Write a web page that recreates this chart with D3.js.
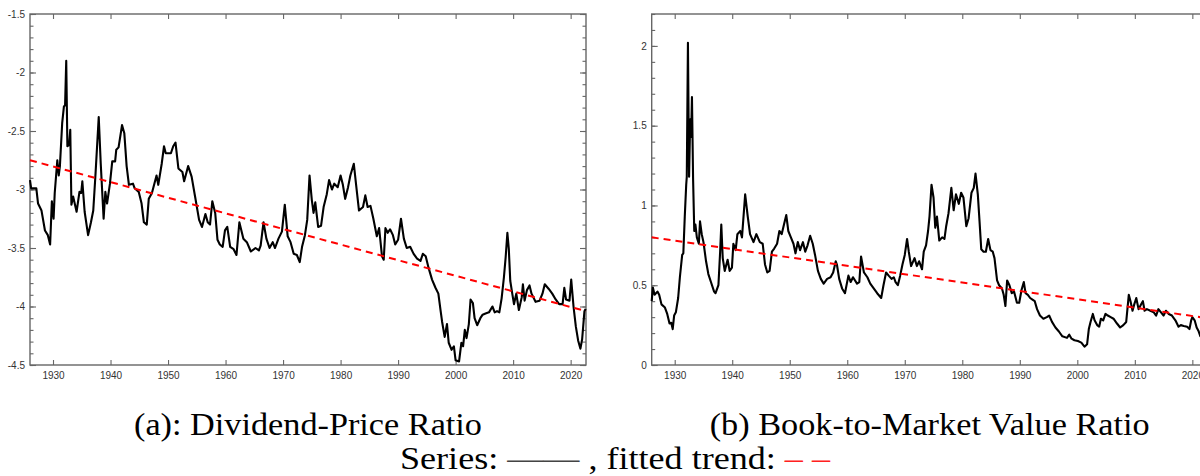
<!DOCTYPE html>
<html>
<head>
<meta charset="utf-8">
<script src="https://cdn.jsdelivr.net/npm/d3@7"></script>
<style>
  body { margin: 0; background: #fff; }
  svg { display: block; }
  .cap { font-family: "Liberation Serif", "DejaVu Serif", "Times New Roman", serif; font-size: 31px; }
</style>
</head>
<body>
<div id="chart"></div>
<script>
// tick values
const yearTicks = [1930, 1940, 1950, 1960, 1970, 1980, 1990, 2000, 2010, 2020];
const dpTicks = [-1.5, -2, -2.5, -3, -3.5, -4, -4.5];
const bmTicks = [0, 0.5, 1, 1.5, 2];

// (a) log dividend-price ratio [year, value]
const dpSeries = [
  [1926.0,-2.92],[1926.2,-2.99],[1927.1,-2.99],[1927.4,-3.12],[1928.0,-3.18],[1928.6,-3.35],
  [1929.1,-3.39],[1929.5,-3.47],[1929.8,-3.10],[1930.1,-3.25],[1930.3,-3.03],[1930.75,-2.75],
  [1931.0,-2.88],[1931.2,-2.80],[1931.6,-2.43],[1931.9,-2.29],[1932.1,-2.28],[1932.3,-1.90],
  [1932.5,-2.63],[1932.8,-2.62],[1933.0,-2.49],[1933.2,-3.13],[1933.5,-3.06],[1934.1,-3.19],
  [1934.6,-3.02],[1934.9,-3.03],[1935.1,-2.93],[1935.5,-3.19],[1936.1,-3.39],[1936.6,-3.28],
  [1937.0,-3.18],[1937.4,-2.86],[1937.95,-2.38],[1938.3,-2.78],[1938.8,-3.25],[1939.1,-3.02],
  [1939.4,-3.12],[1939.9,-2.95],[1940.3,-2.76],[1940.8,-2.76],[1941.0,-2.66],[1941.4,-2.64],
  [1942.0,-2.45],[1942.4,-2.52],[1942.8,-2.80],[1943.2,-2.96],[1943.9,-2.95],[1944.2,-2.99],
  [1944.9,-3.02],[1945.4,-3.12],[1945.8,-3.28],[1946.3,-3.30],[1946.65,-3.08],[1947.2,-3.03],
  [1948.0,-2.88],[1948.3,-2.96],[1948.9,-2.78],[1949.3,-2.63],[1949.6,-2.69],[1950.5,-2.69],
  [1950.9,-2.63],[1951.3,-2.60],[1951.8,-2.82],[1952.5,-2.85],[1952.8,-2.93],[1953.5,-2.80],
  [1954.1,-2.89],[1954.7,-3.06],[1955.4,-3.26],[1955.9,-3.32],[1956.5,-3.21],[1956.9,-3.28],
  [1957.3,-3.30],[1957.7,-3.10],[1958.2,-3.20],[1958.6,-3.43],[1959.0,-3.47],[1959.5,-3.49],
  [1959.9,-3.35],[1960.3,-3.32],[1960.8,-3.49],[1961.4,-3.51],[1961.9,-3.56],[1962.4,-3.28],
  [1963.1,-3.42],[1963.7,-3.45],[1964.4,-3.53],[1965.2,-3.50],[1965.8,-3.52],[1966.1,-3.48],
  [1966.6,-3.28],[1967.1,-3.42],[1967.65,-3.50],[1968.2,-3.45],[1968.6,-3.50],[1969.2,-3.42],
  [1969.8,-3.36],[1970.3,-3.13],[1970.8,-3.40],[1971.3,-3.45],[1971.85,-3.55],[1972.4,-3.56],
  [1972.9,-3.62],[1973.3,-3.49],[1973.8,-3.39],[1974.2,-3.26],[1974.6,-2.88],[1975.0,-3.09],
  [1975.3,-3.20],[1975.6,-3.11],[1976.1,-3.32],[1976.6,-3.31],[1977.05,-3.15],[1977.6,-3.04],
  [1978.0,-2.92],[1978.5,-3.00],[1978.9,-2.95],[1979.5,-2.98],[1980.0,-2.88],[1980.4,-2.96],
  [1980.8,-3.08],[1981.3,-2.98],[1981.7,-2.88],[1982.3,-2.78],[1982.7,-2.96],[1983.2,-3.18],
  [1983.9,-3.15],[1984.3,-3.05],[1984.7,-3.15],[1985.2,-3.14],[1985.7,-3.25],[1986.3,-3.40],
  [1986.7,-3.33],[1987.2,-3.57],[1987.5,-3.60],[1987.8,-3.33],[1988.2,-3.37],[1988.6,-3.34],
  [1989.1,-3.39],[1989.5,-3.47],[1990.0,-3.43],[1990.5,-3.25],[1991.0,-3.42],[1991.5,-3.50],
  [1992.1,-3.49],[1992.7,-3.55],[1993.3,-3.59],[1993.9,-3.61],[1994.3,-3.55],[1994.8,-3.57],
  [1995.3,-3.67],[1995.9,-3.77],[1996.5,-3.84],[1997.0,-3.89],[1997.4,-4.04],[1997.65,-4.13],
  [1998.1,-4.26],[1998.5,-4.15],[1998.8,-4.31],[1999.3,-4.37],[1999.7,-4.34],[2000.0,-4.46],
  [2000.6,-4.47],[2001.0,-4.31],[2001.3,-4.34],[2001.6,-4.20],[2001.9,-4.27],[2002.3,-4.15],
  [2002.6,-3.94],[2003.0,-3.97],[2003.3,-4.10],[2003.75,-4.16],[2004.3,-4.10],[2004.7,-4.07],
  [2005.2,-4.06],[2005.8,-4.05],[2006.4,-4.00],[2006.8,-4.05],[2007.2,-4.04],[2007.6,-4.05],
  [2008.0,-3.93],[2008.4,-3.75],[2008.7,-3.58],[2009.0,-3.37],[2009.25,-3.51],[2009.5,-3.78],
  [2009.85,-3.89],[2010.15,-3.98],[2010.55,-3.89],[2011.0,-4.03],[2011.5,-3.92],[2011.7,-3.81],
  [2012.0,-3.95],[2012.4,-3.86],[2012.85,-3.82],[2013.2,-3.89],[2013.9,-3.96],[2014.6,-3.95],
  [2015.1,-3.89],[2015.5,-3.81],[2016.2,-3.85],[2016.8,-3.89],[2017.4,-3.94],[2018.0,-3.98],
  [2018.6,-3.98],[2018.9,-3.84],[2019.2,-3.94],[2019.8,-3.95],[2020.1,-3.77],[2020.5,-4.00],
  [2020.9,-4.17],[2021.3,-4.29],[2021.7,-4.36],[2022.0,-4.28],[2022.4,-4.04],[2022.6,-4.02]
];
const dpTrend = [[1926, -2.75], [2022.67, -4.04]];

// (b) book-to-market ratio [year, value]
const bmSeries = [
  [1926.0,0.40],[1926.2,0.485],[1926.5,0.44],[1927.0,0.46],[1927.3,0.44],[1927.7,0.38],
  [1928.3,0.36],[1928.7,0.32],[1929.1,0.26],[1929.4,0.265],[1929.65,0.225],[1929.9,0.31],
  [1930.2,0.33],[1930.6,0.42],[1930.9,0.55],[1931.3,0.69],[1931.5,0.70],[1931.75,0.93],
  [1932.0,1.13],[1932.1,1.18],[1932.3,2.02],[1932.5,1.18],[1932.7,1.54],[1932.85,1.43],
  [1933.0,1.68],[1933.2,1.16],[1933.4,0.84],[1933.6,0.88],[1933.85,0.80],[1934.2,0.76],
  [1934.4,0.90],[1934.7,0.82],[1935.0,0.77],[1935.45,0.65],[1935.85,0.57],[1936.3,0.52],
  [1936.85,0.46],[1937.1,0.45],[1937.6,0.50],[1937.9,0.71],[1938.1,0.88],[1938.35,0.67],
  [1938.7,0.59],[1939.2,0.66],[1939.55,0.59],[1939.95,0.61],[1940.2,0.76],[1940.6,0.72],
  [1940.9,0.82],[1941.4,0.84],[1941.7,0.80],[1942.25,1.07],[1942.7,0.93],[1943.1,0.82],
  [1943.7,0.77],[1944.2,0.82],[1944.8,0.77],[1945.3,0.76],[1945.7,0.63],[1946.1,0.58],
  [1946.5,0.59],[1946.9,0.71],[1947.3,0.73],[1947.8,0.76],[1948.2,0.84],[1948.6,0.82],
  [1949.0,0.88],[1949.4,0.94],[1949.75,0.84],[1950.2,0.80],[1950.65,0.76],[1951.0,0.70],
  [1951.4,0.77],[1951.8,0.72],[1952.3,0.77],[1952.7,0.71],[1953.1,0.75],[1953.55,0.81],
  [1954.0,0.76],[1954.4,0.69],[1954.9,0.59],[1955.4,0.54],[1955.9,0.51],[1956.5,0.54],
  [1957.1,0.55],[1957.55,0.58],[1958.0,0.65],[1958.2,0.63],[1958.6,0.54],[1959.1,0.48],
  [1959.6,0.45],[1960.2,0.56],[1960.6,0.52],[1961.0,0.55],[1961.7,0.51],[1962.1,0.52],
  [1962.4,0.68],[1962.9,0.58],[1963.5,0.55],[1964.0,0.51],[1964.6,0.48],[1965.2,0.45],
  [1965.9,0.42],[1966.3,0.50],[1966.75,0.58],[1967.2,0.56],[1967.7,0.54],[1968.1,0.55],
  [1968.4,0.52],[1968.8,0.50],[1969.2,0.56],[1969.6,0.63],[1970.0,0.69],[1970.4,0.79],
  [1970.7,0.71],[1971.1,0.62],[1971.7,0.67],[1972.1,0.62],[1972.5,0.65],[1973.0,0.60],
  [1973.3,0.71],[1973.7,0.75],[1974.05,0.84],[1974.3,0.93],[1974.65,1.13],[1975.0,1.05],
  [1975.3,0.86],[1975.6,0.93],[1976.0,0.78],[1976.5,0.80],[1976.9,0.79],[1977.2,0.87],
  [1977.6,0.95],[1978.1,1.11],[1978.5,0.97],[1978.9,1.07],[1979.4,1.01],[1979.8,1.08],
  [1980.2,1.05],[1980.7,0.87],[1981.1,0.92],[1981.6,1.08],[1982.0,1.11],[1982.3,1.20],
  [1982.7,1.07],[1983.0,0.90],[1983.3,0.725],[1983.7,0.71],[1984.1,0.71],[1984.5,0.79],
  [1984.9,0.72],[1985.3,0.71],[1985.6,0.67],[1986.05,0.53],[1986.4,0.50],[1986.9,0.48],
  [1987.2,0.44],[1987.5,0.37],[1987.8,0.53],[1988.2,0.50],[1988.6,0.45],[1989.0,0.46],
  [1989.5,0.39],[1989.9,0.39],[1990.3,0.47],[1990.7,0.52],[1991.0,0.45],[1991.4,0.44],
  [1991.8,0.42],[1992.2,0.41],[1992.6,0.40],[1993.0,0.35],[1993.5,0.31],[1994.1,0.29],
  [1994.7,0.30],[1995.1,0.31],[1995.6,0.27],[1996.2,0.235],[1996.8,0.21],[1997.4,0.18],
  [1998.2,0.17],[1998.6,0.19],[1999.0,0.165],[1999.5,0.155],[2000.1,0.15],[2000.7,0.14],
  [2001.25,0.115],[2001.7,0.13],[2002.0,0.225],[2002.3,0.27],[2002.7,0.32],[2003.0,0.28],
  [2003.45,0.25],[2003.8,0.24],[2004.1,0.29],[2004.5,0.28],[2004.9,0.32],[2005.3,0.31],
  [2005.8,0.30],[2006.3,0.29],[2006.9,0.26],[2007.45,0.235],[2008.0,0.25],[2008.5,0.27],
  [2008.95,0.44],[2009.25,0.40],[2009.6,0.34],[2009.9,0.38],[2010.25,0.42],[2010.65,0.35],
  [2011.1,0.38],[2011.4,0.40],[2011.7,0.34],[2012.1,0.35],[2012.7,0.34],[2013.3,0.33],
  [2013.7,0.31],[2014.1,0.35],[2014.55,0.33],[2015.0,0.31],[2015.4,0.34],[2015.9,0.32],
  [2016.45,0.31],[2017.05,0.28],[2017.6,0.24],[2018.0,0.25],[2018.5,0.245],[2019.1,0.24],
  [2019.5,0.225],[2019.8,0.28],[2020.0,0.30],[2020.4,0.28],[2020.75,0.235],[2021.05,0.215],
  [2021.4,0.18],[2022.0,0.17],[2022.6,0.19]
];
const bmTrend = [[1926, 0.80], [2022.67, 0.293]];

const captions = ["(a): Dividend-Price Ratio", "(b) Book-to-Market Value Ratio"];

const width = 1200, height = 476;
const svg = d3.select("#chart").append("svg")
  .attr("width", width)
  .attr("height", height)
  .style("font-family", "'Liberation Sans', Arial, sans-serif");

const axisColor = "#666";

function drawPanel(left, series, trend, yDomain, yTicks, caption, capWidth) {
  const plotW = 556, top = 14, bottom = 365;
  const x = d3.scaleLinear().domain([1926, 2022.67]).range([left, left + plotW]);
  const y = d3.scaleLinear().domain(yDomain).range([bottom, top]);
  const minor = d3.range(Math.round(yDomain[0] * 10), Math.round(yDomain[1] * 10) + 1).map(d => d / 10);

  const g = svg.append("g");

  // frame
  g.append("rect")
    .attr("x", left).attr("y", top)
    .attr("width", plotW).attr("height", bottom - top)
    .attr("fill", "none").attr("stroke", axisColor).attr("stroke-width", 1.4);

  // axes, ticks pointing inward
  const addAxis = (axis, tx, ty, labels) => {
    const a = g.append("g").attr("transform", `translate(${tx},${ty})`).call(axis);
    a.select(".domain").remove();
    a.selectAll(".tick line").attr("stroke", axisColor).attr("stroke-width", 1.1);
    a.selectAll(".tick text")
      .attr("fill", "#333")
      .style("font-size", "10px");
    if (!labels) a.selectAll(".tick text").remove();
    return a;
  };

  addAxis(d3.axisBottom(x).tickValues(yearTicks).tickSize(-5).tickPadding(7).tickFormat(d3.format("d")), 0, bottom, true);
  addAxis(d3.axisTop(x).tickValues(yearTicks).tickSize(-5), 0, top, false);
  addAxis(d3.axisLeft(y).tickValues(minor).tickSize(-3.5), left, 0, false);
  addAxis(d3.axisLeft(y).tickValues(yTicks).tickSize(-6).tickPadding(5).tickFormat(d => String(d)), left, 0, true);
  addAxis(d3.axisRight(y).tickValues(minor).tickSize(-3.5), left + plotW, 0, false);
  addAxis(d3.axisRight(y).tickValues(yTicks).tickSize(-6), left + plotW, 0, false);

  const line = d3.line().x(d => x(d[0])).y(d => y(d[1]));

  g.append("path")
    .datum(series)
    .attr("d", line)
    .attr("fill", "none")
    .attr("stroke", "#000")
    .attr("stroke-width", 2.1)
    .attr("stroke-linejoin", "round");

  g.append("path")
    .datum(trend)
    .attr("d", line)
    .attr("fill", "none")
    .attr("stroke", "#ff0000")
    .attr("stroke-width", 2)
    .attr("stroke-dasharray", "7,5");

  g.append("text")
    .attr("class", "cap")
    .attr("x", left + plotW / 2 - capWidth / 2)
    .attr("y", 435)
    .attr("textLength", capWidth)
    .attr("lengthAdjust", "spacingAndGlyphs")
    .attr("fill", "#000")
    .text(caption);
}

drawPanel(30, dpSeries, dpTrend, [-4.5, -1.5], dpTicks, captions[0], 348);
drawPanel(651.7, bmSeries, bmTrend, [0, 2.2], bmTicks, captions[1], 440);

// legend line under the captions
const legend = svg.append("text")
  .attr("class", "cap")
  .attr("x", 400)
  .attr("y", 469)
  .attr("textLength", 430)
  .attr("lengthAdjust", "spacingAndGlyphs");
legend.append("tspan").text("Series: ");
legend.append("tspan").attr("fill", "#444").text("\u2014\u2014");
legend.append("tspan").text(" , fitted trend: ");
legend.append("tspan").attr("fill", "#ff2020").text("\u2013 \u2013");
</script>
</body>
</html>
